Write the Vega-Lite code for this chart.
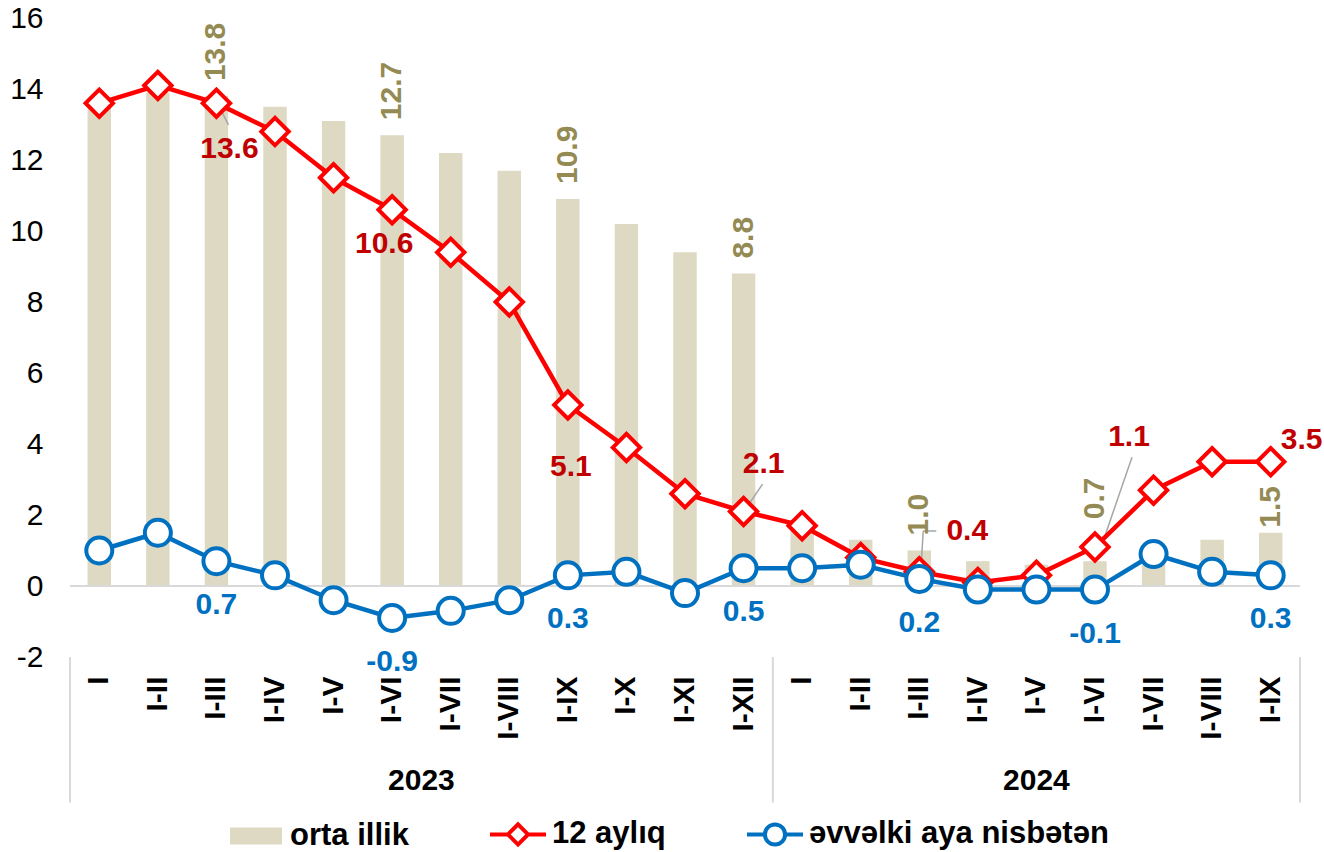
{
  "$schema": "https://vega.github.io/schema/vega-lite/v6.json",
  "width": 1230,
  "height": 639,
  "autosize": {"type": "none"},
  "padding": {"left": 70, "top": 18, "right": 24, "bottom": 195},
  "config": {
    "font": "Liberation Sans",
    "view": {"stroke": null},
    "locale": {"number": {"decimal": ".", "thousands": ",", "grouping": [3], "currency": ["", ""], "minus": "-"}}
  },
  "data": {
    "values": [
      {"idx": 1, "key": "2023|I", "orta": 13.6, "a12": 13.6, "ev": 1.0},
      {"idx": 2, "key": "2023|I-II", "orta": 13.9, "a12": 14.1, "ev": 1.5},
      {"idx": 3, "key": "2023|I-III", "orta": 13.8, "a12": 13.6, "ev": 0.7},
      {"idx": 4, "key": "2023|I-IV", "orta": 13.5, "a12": 12.8, "ev": 0.3},
      {"idx": 5, "key": "2023|I-V", "orta": 13.1, "a12": 11.5, "ev": -0.4},
      {"idx": 6, "key": "2023|I-VI", "orta": 12.7, "a12": 10.6, "ev": -0.9},
      {"idx": 7, "key": "2023|I-VII", "orta": 12.2, "a12": 9.4, "ev": -0.7},
      {"idx": 8, "key": "2023|I-VIII", "orta": 11.7, "a12": 8.0, "ev": -0.4},
      {"idx": 9, "key": "2023|I-IX", "orta": 10.9, "a12": 5.1, "ev": 0.3},
      {"idx": 10, "key": "2023|I-X", "orta": 10.2, "a12": 3.9, "ev": 0.4},
      {"idx": 11, "key": "2023|I-XI", "orta": 9.4, "a12": 2.6, "ev": -0.2},
      {"idx": 12, "key": "2023|I-XII", "orta": 8.8, "a12": 2.1, "ev": 0.5},
      {"idx": 13, "key": "2024|I", "orta": 1.7, "a12": 1.7, "ev": 0.5},
      {"idx": 14, "key": "2024|I-II", "orta": 1.3, "a12": 0.8, "ev": 0.6},
      {"idx": 15, "key": "2024|I-III", "orta": 1.0, "a12": 0.4, "ev": 0.2},
      {"idx": 16, "key": "2024|I-IV", "orta": 0.7, "a12": 0.1, "ev": -0.1},
      {"idx": 17, "key": "2024|I-V", "orta": 0.6, "a12": 0.3, "ev": -0.1},
      {"idx": 18, "key": "2024|I-VI", "orta": 0.7, "a12": 1.1, "ev": -0.1},
      {"idx": 19, "key": "2024|I-VII", "orta": 1.0, "a12": 2.7, "ev": 0.9},
      {"idx": 20, "key": "2024|I-VIII", "orta": 1.3, "a12": 3.5, "ev": 0.4},
      {"idx": 21, "key": "2024|I-IX", "orta": 1.5, "a12": 3.5, "ev": 0.3}
    ]
  },
  "layer": [
    {
      "mark": {"type": "bar", "width": {"band": 0.4}, "color": "#DDD9C3"},
      "encoding": {
        "x": {
          "field": "key", "type": "ordinal", "sort": null, "title": null,
          "scale": {"paddingInner": 0, "paddingOuter": 0},
          "axis": {
            "labelExpr": "split(datum.value, '|')[1]",
            "labelAngle": 270, "labelFontSize": 30, "labelFontWeight": "bold",
            "labelColor": "#000000", "labelPadding": 19, "domain": false, "ticks": false, "grid": false
          }
        },
        "y": {
          "field": "orta", "type": "quantitative", "title": null,
          "scale": {"domain": [-2, 16], "nice": false, "zero": false},
          "axis": {
            "values": [-2, 0, 2, 4, 6, 8, 10, 12, 14, 16],
            "labelFontSize": 30, "labelColor": "#000000", "labelPadding": 27,
            "domain": false, "ticks": false, "grid": false
          }
        }
      }
    },
    {
      "transform": [{"filter": "datum.idx == 1"}],
      "mark": {
        "type": "point", "opacity": 0, "filled": true,
        "fill": {"expr": "datum.value === 'orta illik' ? '#DDD9C3' : '#ffffff'"},
        "stroke": {"expr": "datum.value === 'orta illik' ? '#DDD9C3' : datum.value === '12 aylıq' ? '#FF0000' : '#0070C0'"}
      },
      "encoding": {
        "x": {"field": "key", "type": "ordinal", "sort": null},
        "y": {"field": "orta", "type": "quantitative", "title": null},
        "shape": {
          "datum": "orta illik", "type": "nominal",
          "scale": {
            "domain": ["orta illik", "12 aylıq", "əvvəlki aya nisbətən"],
            "range": [
              "M-0.857,-0.232H0.857V0.232H-0.857Z",
              "M-1,0H-0.36M0.36,0H1M-0.36,0L0,-0.36L0.36,0L0,0.36Z",
              "M-1,0H-0.36M0.36,0H1M-0.36,0A0.36,0.36,0,1,0,0.36,0A0.36,0.36,0,1,0,-0.36,0Z"
            ]
          },
          "legend": {
            "title": null, "orient": "none", "direction": "horizontal",
            "legendX": 156, "legendY": 786, "padding": 0,
            "symbolSize": 3136, "symbolOpacity": 1, "symbolStrokeWidth": 4,
            "labelOffset": 4, "columnPadding": 73, "labelLimit": 0,
            "labelFontSize": 31, "labelFontWeight": "bold", "labelColor": "#000000",
            "encode": {
              "symbols": {
                "update": {
                  "size": {"value": 3136},
                  "opacity": {"value": 1}
                }
              }
            }
          }
        }
      }
    },
    {
      "transform": [{"filter": "datum.idx == 1"}],
      "mark": {"type": "rule", "color": "#D9D9D9", "strokeWidth": 2},
      "encoding": {"y": {"datum": 0, "type": "quantitative", "scale": {"domain": [-2, 16]}}}
    },
    {
      "transform": [{"filter": "datum.idx == 1"}],
      "mark": {"type": "rule", "color": "#D9D9D9", "strokeWidth": 2},
      "encoding": {
        "x": {"datum": "2023|I", "type": "ordinal", "bandPosition": 0},
        "y": {"datum": -2, "type": "quantitative", "scale": {"domain": [-2, 16]}},
        "y2": {"datum": -6.1}
      }
    },
    {
      "transform": [{"filter": "datum.idx == 1"}],
      "mark": {"type": "rule", "color": "#D9D9D9", "strokeWidth": 2},
      "encoding": {
        "x": {"datum": "2024|I", "type": "ordinal", "bandPosition": 0},
        "y": {"datum": -2, "type": "quantitative", "scale": {"domain": [-2, 16]}},
        "y2": {"datum": -6.1}
      }
    },
    {
      "transform": [{"filter": "datum.idx == 1"}],
      "mark": {"type": "rule", "color": "#D9D9D9", "strokeWidth": 2},
      "encoding": {
        "x": {"datum": "2024|I-IX", "type": "ordinal", "bandPosition": 1},
        "y": {"datum": -2, "type": "quantitative", "scale": {"domain": [-2, 16]}},
        "y2": {"datum": -6.1}
      }
    },
    {
      "transform": [{"filter": "datum.idx == 1"}],
      "mark": {"type": "text", "fontSize": 30, "fontWeight": "bold", "color": "#000000", "align": "center", "baseline": "middle"},
      "encoding": {
        "x": {"datum": "2023|I-VI", "type": "ordinal", "bandPosition": 1},
        "y": {"datum": -5.5, "type": "quantitative", "scale": {"domain": [-2, 16]}},
        "text": {"value": "2023"}
      }
    },
    {
      "transform": [{"filter": "datum.idx == 1"}],
      "mark": {"type": "text", "fontSize": 30, "fontWeight": "bold", "color": "#000000", "align": "center", "baseline": "middle"},
      "encoding": {
        "x": {"datum": "2024|I-V", "type": "ordinal", "bandPosition": 0.5},
        "y": {"datum": -5.5, "type": "quantitative", "scale": {"domain": [-2, 16]}},
        "text": {"value": "2024"}
      }
    },
    {
      "transform": [{"filter": "datum.idx == 1"}],
      "mark": {"type": "rule", "color": "#A6A6A6", "strokeWidth": 1.5, "xOffset": 2, "x2Offset": 12},
      "encoding": {
        "x": {"datum": "2023|I-III", "type": "ordinal", "bandPosition": 0.5},
        "x2": {"datum": "2023|I-III", "bandPosition": 0.5},
        "y": {"datum": 13.55, "type": "quantitative", "scale": {"domain": [-2, 16]}},
        "y2": {"datum": 12.99}
      }
    },
    {
      "transform": [{"filter": "datum.idx == 1"}],
      "mark": {"type": "rule", "color": "#A6A6A6", "strokeWidth": 1.5, "xOffset": 2, "x2Offset": 19},
      "encoding": {
        "x": {"datum": "2023|I-XII", "type": "ordinal", "bandPosition": 0.5},
        "x2": {"datum": "2023|I-XII", "bandPosition": 0.5},
        "y": {"datum": 2.17, "type": "quantitative", "scale": {"domain": [-2, 16]}},
        "y2": {"datum": 2.87}
      }
    },
    {
      "transform": [{"filter": "datum.idx == 1"}],
      "mark": {"type": "rule", "color": "#A6A6A6", "strokeWidth": 1.5, "xOffset": 0, "x2Offset": 4},
      "encoding": {
        "x": {"datum": "2024|I-III", "type": "ordinal", "bandPosition": 0.5},
        "x2": {"datum": "2024|I-III", "bandPosition": 0.5},
        "y": {"datum": -0.23, "type": "quantitative", "scale": {"domain": [-2, 16]}},
        "y2": {"datum": 1.55}
      }
    },
    {
      "transform": [{"filter": "datum.idx == 1"}],
      "mark": {"type": "rule", "color": "#A6A6A6", "strokeWidth": 1.5, "xOffset": 4, "x2Offset": 17},
      "encoding": {
        "x": {"datum": "2024|I-III", "type": "ordinal", "bandPosition": 0.5},
        "x2": {"datum": "2024|I-III", "bandPosition": 0.5},
        "y": {"datum": 1.55, "type": "quantitative", "scale": {"domain": [-2, 16]}},
        "y2": {"datum": 1.55}
      }
    },
    {
      "transform": [{"filter": "datum.idx == 1"}],
      "mark": {"type": "rule", "color": "#A6A6A6", "strokeWidth": 1.5, "xOffset": 37, "x2Offset": 2},
      "encoding": {
        "x": {"datum": "2024|I-VI", "type": "ordinal", "bandPosition": 0.5},
        "x2": {"datum": "2024|I-VI", "bandPosition": 0.5},
        "y": {"datum": 3.63, "type": "quantitative", "scale": {"domain": [-2, 16]}},
        "y2": {"datum": 0.76}
      }
    },
    {
      "mark": {"type": "line", "strokeWidth": 4.5, "color": "#FF0000"},
      "encoding": {
        "x": {"field": "key", "type": "ordinal", "sort": null},
        "y": {"field": "a12", "type": "quantitative", "title": null},
        "order": {"field": "idx"}
      }
    },
    {
      "mark": {"type": "point", "shape": "diamond", "filled": true, "fill": "#ffffff", "stroke": "#FF0000", "strokeWidth": 4, "size": 750, "opacity": 1},
      "encoding": {
        "x": {"field": "key", "type": "ordinal", "sort": null},
        "y": {"field": "a12", "type": "quantitative", "title": null}
      }
    },
    {
      "mark": {"type": "line", "strokeWidth": 4.5, "color": "#0070C0"},
      "encoding": {
        "x": {"field": "key", "type": "ordinal", "sort": null},
        "y": {"field": "ev", "type": "quantitative", "title": null},
        "order": {"field": "idx"}
      }
    },
    {
      "mark": {"type": "point", "shape": "circle", "filled": true, "fill": "#ffffff", "stroke": "#0070C0", "strokeWidth": 4, "size": 676, "opacity": 1},
      "encoding": {
        "x": {"field": "key", "type": "ordinal", "sort": null},
        "y": {"field": "ev", "type": "quantitative", "title": null}
      }
    },
    {
      "transform": [{"filter": {"field": "key", "oneOf": ["2023|I-III", "2023|I-VI", "2023|I-IX", "2023|I-XII", "2024|I-III"]}}],
      "mark": {"type": "text", "angle": 270, "align": "left", "baseline": "middle", "dx": 15, "fontSize": 30, "fontWeight": "bold", "color": "#948A54"},
      "encoding": {
        "x": {"field": "key", "type": "ordinal", "sort": null},
        "y": {"field": "orta", "type": "quantitative", "title": null},
        "text": {"field": "orta", "type": "quantitative", "format": ".1f"}
      }
    },
    {
      "transform": [{"filter": {"field": "key", "equal": "2024|I-VI"}}],
      "mark": {"type": "text", "angle": 270, "align": "left", "baseline": "middle", "dx": 42, "fontSize": 30, "fontWeight": "bold", "color": "#948A54"},
      "encoding": {
        "x": {"field": "key", "type": "ordinal", "sort": null},
        "y": {"field": "orta", "type": "quantitative", "title": null},
        "text": {"field": "orta", "type": "quantitative", "format": ".1f"}
      }
    },
    {
      "transform": [{"filter": {"field": "key", "equal": "2024|I-IX"}}],
      "mark": {"type": "text", "angle": 270, "align": "left", "baseline": "middle", "dx": 5, "fontSize": 30, "fontWeight": "bold", "color": "#948A54"},
      "encoding": {
        "x": {"field": "key", "type": "ordinal", "sort": null},
        "y": {"field": "orta", "type": "quantitative", "title": null},
        "text": {"field": "orta", "type": "quantitative", "format": ".1f"}
      }
    },
    {
      "transform": [{"filter": {"field": "key", "equal": "2023|I-III"}}],
      "mark": {"type": "text", "align": "center", "baseline": "middle", "dx": 13, "dy": 46, "fontSize": 30, "fontWeight": "bold", "color": "#C00000"},
      "encoding": {
        "x": {"field": "key", "type": "ordinal", "sort": null},
        "y": {"field": "a12", "type": "quantitative", "title": null},
        "text": {"field": "a12", "type": "quantitative", "format": ".1f"}
      }
    },
    {
      "transform": [{"filter": {"field": "key", "equal": "2023|I-VI"}}],
      "mark": {"type": "text", "align": "center", "baseline": "middle", "dx": -8, "dy": 34, "fontSize": 30, "fontWeight": "bold", "color": "#C00000"},
      "encoding": {
        "x": {"field": "key", "type": "ordinal", "sort": null},
        "y": {"field": "a12", "type": "quantitative", "title": null},
        "text": {"field": "a12", "type": "quantitative", "format": ".1f"}
      }
    },
    {
      "transform": [{"filter": {"field": "key", "equal": "2023|I-IX"}}],
      "mark": {"type": "text", "align": "center", "baseline": "middle", "dx": 3, "dy": 62, "fontSize": 30, "fontWeight": "bold", "color": "#C00000"},
      "encoding": {
        "x": {"field": "key", "type": "ordinal", "sort": null},
        "y": {"field": "a12", "type": "quantitative", "title": null},
        "text": {"field": "a12", "type": "quantitative", "format": ".1f"}
      }
    },
    {
      "transform": [{"filter": {"field": "key", "equal": "2023|I-XII"}}],
      "mark": {"type": "text", "align": "center", "baseline": "middle", "dx": 20, "dy": -47, "fontSize": 30, "fontWeight": "bold", "color": "#C00000"},
      "encoding": {
        "x": {"field": "key", "type": "ordinal", "sort": null},
        "y": {"field": "a12", "type": "quantitative", "title": null},
        "text": {"field": "a12", "type": "quantitative", "format": ".1f"}
      }
    },
    {
      "transform": [{"filter": {"field": "key", "equal": "2024|I-III"}}],
      "mark": {"type": "text", "align": "center", "baseline": "middle", "dx": 48, "dy": -41, "fontSize": 30, "fontWeight": "bold", "color": "#C00000"},
      "encoding": {
        "x": {"field": "key", "type": "ordinal", "sort": null},
        "y": {"field": "a12", "type": "quantitative", "title": null},
        "text": {"field": "a12", "type": "quantitative", "format": ".1f"}
      }
    },
    {
      "transform": [{"filter": {"field": "key", "equal": "2024|I-VI"}}],
      "mark": {"type": "text", "align": "center", "baseline": "middle", "dx": 34, "dy": -110, "fontSize": 30, "fontWeight": "bold", "color": "#C00000"},
      "encoding": {
        "x": {"field": "key", "type": "ordinal", "sort": null},
        "y": {"field": "a12", "type": "quantitative", "title": null},
        "text": {"field": "a12", "type": "quantitative", "format": ".1f"}
      }
    },
    {
      "transform": [{"filter": {"field": "key", "equal": "2024|I-IX"}}],
      "mark": {"type": "text", "align": "center", "baseline": "middle", "dx": 31, "dy": -22, "fontSize": 30, "fontWeight": "bold", "color": "#C00000"},
      "encoding": {
        "x": {"field": "key", "type": "ordinal", "sort": null},
        "y": {"field": "a12", "type": "quantitative", "title": null},
        "text": {"field": "a12", "type": "quantitative", "format": ".1f"}
      }
    },
    {
      "transform": [{"filter": {"field": "key", "oneOf": ["2023|I-III", "2023|I-VI", "2023|I-IX", "2023|I-XII", "2024|I-III", "2024|I-VI", "2024|I-IX"]}}],
      "mark": {"type": "text", "align": "center", "baseline": "middle", "dy": 44, "fontSize": 30, "fontWeight": "bold", "color": "#0070C0"},
      "encoding": {
        "x": {"field": "key", "type": "ordinal", "sort": null},
        "y": {"field": "ev", "type": "quantitative", "title": null},
        "text": {"field": "ev", "type": "quantitative", "format": ".1f"}
      }
    }
  ]
}
